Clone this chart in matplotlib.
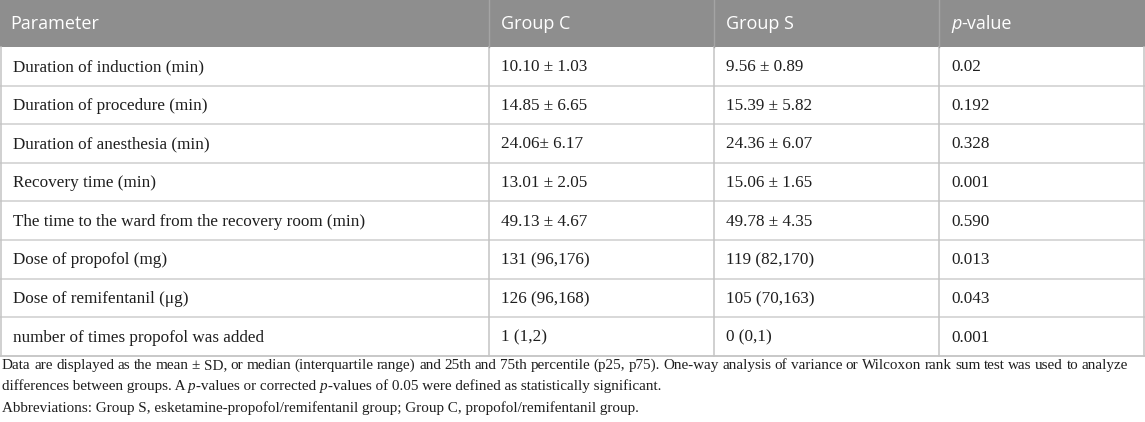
import matplotlib.pyplot as plt
from matplotlib.patches import Rectangle

# Table content
headers = ["Parameter", "Group C", "Group S", "p-value"]
params = [
    "Duration of induction (min)",
    "Duration of procedure (min)",
    "Duration of anesthesia (min)",
    "Recovery time (min)",
    "The time to the ward from the recovery room (min)",
    "Dose of propofol (mg)",
    "Dose of remifentanil (\u03bcg)",
    "number of times propofol was added",
]
group_c = ["10.10 \u00b1 1.03", "14.85 \u00b1 6.65", "24.06\u00b1 6.17", "13.01 \u00b1 2.05",
           "49.13 \u00b1 4.67", "131 (96,176)", "126 (96,168)", "1 (1,2)"]
group_s = ["9.56 \u00b1 0.89", "15.39 \u00b1 5.82", "24.36 \u00b1 6.07", "15.06 \u00b1 1.65",
           "49.78 \u00b1 4.35", "119 (82,170)", "105 (70,163)", "0 (0,1)"]
p_values = ["0.02", "0.192", "0.328", "0.001", "0.590", "0.013", "0.043", "0.001"]

footnote = [
    [("Data are displayed as the mean \u00b1 SD, or median (interquartile range) and 25th and 75th "
      "percentile (p25, p75). One-way analysis of variance or Wilcoxon rank sum test was used to analyze", "normal")],
    [("differences between groups. A ", "normal"), ("p", "italic"), ("-values or corrected ", "normal"),
     ("p", "italic"), ("-values of 0.05 were defined as statistically significant.", "normal")],
    [("Abbreviations: Group S, esketamine-propofol/remifentanil group; Group C, propofol/remifentanil group.", "normal")],
]

W, H = 1145, 422
fig = plt.figure(figsize=(W / 100, H / 100), dpi=100)
ax = fig.add_axes([0, 0, 1, 1])
ax.set_xlim(0, W)
ax.set_ylim(H, 0)
ax.axis("off")

col_x = [1, 489, 714, 939, 1144]
head_h = 47
row_h = 38.6
table_bot = head_h + row_h * len(params)
pad = 12

SERIF = "Liberation Serif"
SANS = "Open Sans"
txt_col = "#1e1e1e"
body_fs = 12.35
foot_fs = 10.9

fig.canvas.draw()
renderer = fig.canvas.get_renderer()
inv = ax.transData.inverted()


def width_of(t):
    bb = t.get_window_extent(renderer)
    return inv.transform((bb.x1, bb.y0))[0] - inv.transform((bb.x0, bb.y0))[0]


# header band
ax.add_patch(Rectangle((0, 0), W, head_h, color="#8e8e8e", lw=0))
head_base = 29
for i, h in enumerate(headers):
    x = col_x[i] + (9 if i == 0 else pad)
    if h == "p-value":
        t = ax.text(x, head_base, "p", color="white", fontsize=13, family=SANS,
                    style="italic", va="baseline", ha="left")
        ax.text(x + width_of(t), head_base, "-value", color="white", fontsize=13,
                family=SANS, va="baseline", ha="left")
    else:
        ax.text(x, head_base, h, color="white", fontsize=13, family=SANS,
                va="baseline", ha="left")

# body rows
for r in range(len(params)):
    yc = head_h + row_h * (r + 0.5)
    cells = [params[r], group_c[r], group_s[r], p_values[r]]
    for i, c in enumerate(cells):
        ax.text(col_x[i] + pad, yc + 1, c, color=txt_col, fontsize=body_fs, family=SERIF,
                va="center", ha="left")
    if r > 0:
        ax.plot([0, W], [head_h + row_h * r] * 2, color="#d6d6d6", lw=1.3)

# grid lines
for x in col_x:
    ax.plot([x, x], [head_h, table_bot], color="#c4c4c4", lw=1.1)
for x in col_x[1:4]:
    ax.plot([x, x], [0, head_h], color="#a4a4a4", lw=1.0)
ax.plot([0, W], [table_bot, table_bot], color="#c4c4c4", lw=1.3)

# footnote: first line justified, the rest set ragged (baseline aligned)
foot_base = [369, 390, 412]
x0, x_right = 2, 1128

words = footnote[0][0][0].split(" ")
items = [ax.text(0, foot_base[0], w, color=txt_col, fontsize=foot_fs, family=SERIF,
                 va="baseline", ha="left") for w in words]
widths = [width_of(t) for t in items]
gap = (x_right - x0 - sum(widths)) / (len(words) - 1)
x = x0
for t, w in zip(items, widths):
    t.set_x(x)
    x += w + gap

for line, y in zip(footnote[1:], foot_base[1:]):
    x = x0
    for s, st in line:
        t = ax.text(x, y, s, color=txt_col, fontsize=foot_fs, family=SERIF, style=st,
                    va="baseline", ha="left")
        x += width_of(t)

fig.savefig("out.png", dpi=100)
